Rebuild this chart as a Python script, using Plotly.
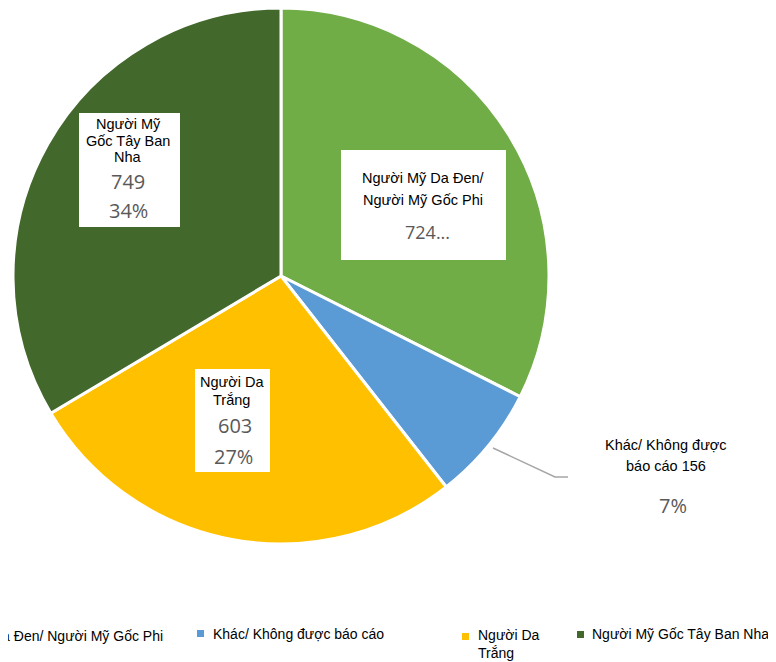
import plotly.graph_objects as go

W, H = 776, 662
OFF = 8  # page body margin in the browser

# Data
labels = ['Người Mỹ Da Đen/ Người Mỹ Gốc Phi', 'Khác/ Không được báo cáo',
          'Người Da Trắng', 'Người Mỹ Gốc Tây Ban Nha']
values = [724, 156, 603, 749]
colors = ['#70AD47', '#5B9BD5', '#FFC000', '#43682B']
pcts = [round(100 * v / sum(values)) for v in values]

TEXT_FONT = 'Liberation Sans, Arial, sans-serif'
NUM_FONT = 'Open Sans, Noto Sans, sans-serif'


def px(x, y):
    """screen pixel (top-left origin) -> paper coords"""
    return (x - OFF) / W, 1 - (y - OFF) / H


fig = go.Figure()
d0, d1 = px(13, 544)
d2, d3 = px(549, 8)
fig.add_trace(go.Pie(
    labels=labels,
    values=values,
    sort=False,
    direction='clockwise',
    rotation=0,
    textinfo='none',
    marker=dict(colors=colors, line=dict(color='white', width=3)),
    domain=dict(x=[d0, d2], y=[d1, d3]),
    showlegend=False,
))

shapes = []
annotations = []


def box(x0, y0, x1, y1):
    (a, b), (c, d) = px(x0, y0), px(x1, y1)
    shapes.append(dict(type='rect', xref='paper', yref='paper', x0=a, x1=c,
                       y0=d, y1=b, fillcolor='white', line=dict(width=0),
                       layer='above'))


def text(x, y, s, size=14, color='black', font=TEXT_FONT, anchor='center'):
    xx, yy = px(x, y)
    annotations.append(dict(x=xx, y=yy, xref='paper', yref='paper', text=s,
                            showarrow=False, xanchor=anchor, yanchor='middle',
                            font=dict(family=font, size=size, color=color)))


# label boxes
box(341, 150, 506, 260)
box(79, 113, 180, 227)
box(195, 369, 270, 472)

# green slice
text(423, 178, 'Người Mỹ Da Đen/', 14.5)
text(423, 200, 'Người Mỹ Gốc Phi', 14.5)
text(427, 232, f'{values[0]}...', 18, '#595959', NUM_FONT)

# dark green slice
text(128, 124, 'Người Mỹ', 14.5)
text(128, 141, 'Gốc Tây Ban', 14.5)
text(128, 157, 'Nha', 14.5)
text(128, 181, str(values[3]), 20, '#595959', NUM_FONT)
text(128, 210, f'{pcts[3]}%', 20, '#595959', NUM_FONT)

# yellow slice
text(232, 382, 'Người Da', 14.5)
text(232, 400, 'Trắng', 14.5)
text(235, 425, str(values[2]), 20, '#595959', NUM_FONT)
text(233, 456, f'{pcts[2]}%', 20, '#595959', NUM_FONT)

# blue slice (outside)
text(666, 445, 'Khác/ Không được', 14.5)
text(666, 466, f'báo cáo {values[1]}', 14.5)
text(673, 505, f'{pcts[1]}%', 20, '#595959', NUM_FONT)

p = [px(493, 448), px(555, 477), px(568, 477)]
shapes.append(dict(type='path', xref='paper', yref='paper',
                   path=f'M {p[0][0]},{p[0][1]} L {p[1][0]},{p[1][1]} L {p[2][0]},{p[2][1]}',
                   line=dict(color='#A6A6A6', width=1.5), layer='above'))

# manual legend: (marker x, text x, text y, text, anchor)
leg = [
    (None, 165, 636, labels[0], 'right'),
    (197, 211, 634, labels[1], 'left'),
    (462, 476, 625, 'Người Da<br>Trắng', 'left'),
    (577, 590, 634, labels[3], 'left'),
]
marker_y = [None, 630, 633, 631]
for i, (mx, tx, ty, s, anc) in enumerate(leg):
    if mx is not None:
        a, b = px(mx, marker_y[i])
        c, d = px(mx + 7, marker_y[i] + 7)
        shapes.append(dict(type='rect', xref='paper', yref='paper', x0=a, x1=c,
                           y0=d, y1=b, fillcolor=colors[i], line=dict(width=0)))
    xx, yy = px(tx, ty)
    annotations.append(dict(x=xx, y=yy, xref='paper', yref='paper', text=s,
                            showarrow=False, xanchor=anc,
                            yanchor='top' if i == 2 else 'middle',
                            align='left',
                            font=dict(family=TEXT_FONT, size=14, color='black')))

fig.update_layout(
    width=W, height=H,
    margin=dict(l=0, r=0, t=0, b=0),
    paper_bgcolor='white',
    plot_bgcolor='white',
    shapes=shapes,
    annotations=annotations,
)

fig.write_html('out.html')
